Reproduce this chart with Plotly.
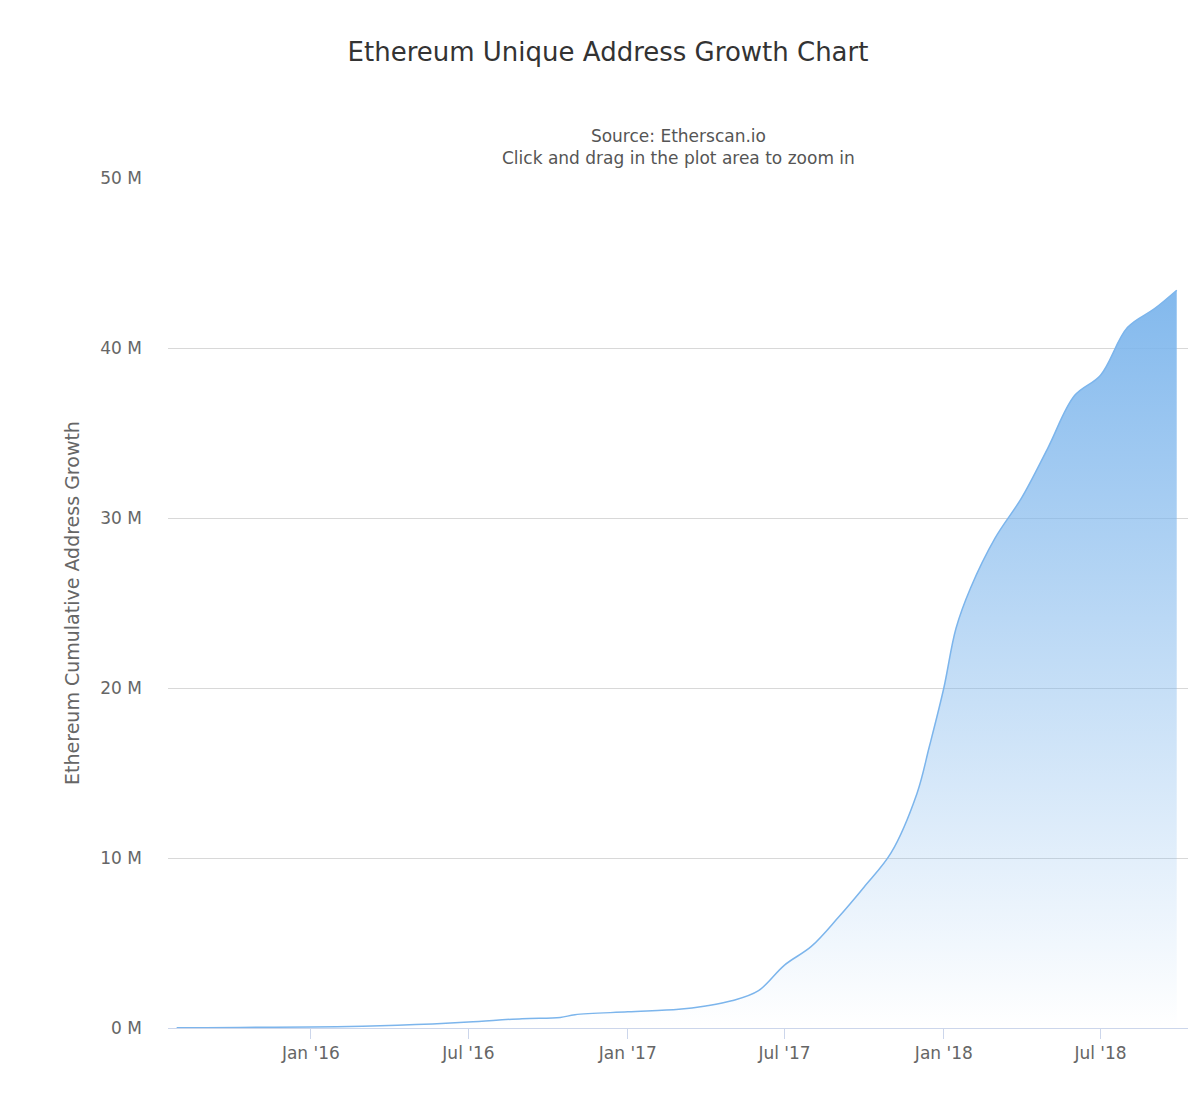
import plotly.graph_objects as go

dates = ["2015-07-30", "2015-09-01", "2015-11-01", "2016-01-01", "2016-03-01", "2016-05-01",
         "2016-07-01", "2016-09-01", "2016-10-15", "2016-11-01", "2017-01-01", "2017-03-01",
         "2017-04-01", "2017-05-01", "2017-06-01", "2017-07-01", "2017-08-01", "2017-09-01",
         "2017-10-01", "2017-11-01", "2017-12-01", "2017-12-15", "2018-01-01", "2018-01-15",
         "2018-02-01", "2018-03-01", "2018-04-01", "2018-05-01", "2018-06-01", "2018-07-01",
         "2018-08-01", "2018-09-01", "2018-09-27"]
addresses = [0.01, 0.02, 0.04, 0.06, 0.1, 0.2,
             0.35, 0.55, 0.62, 0.78, 0.95, 1.1,
             1.3, 1.6, 2.2, 3.7, 4.8, 6.5,
             8.3, 10.3, 13.8, 16.5, 20.0, 23.5,
             25.9, 28.8, 31.2, 34.1, 37.2, 38.4,
             41.2, 42.3, 43.4]
y_ticks = [0, 10, 20, 30, 40, 50]

fig = go.Figure(go.Scatter(
    x=dates, y=[v * 1e6 for v in addresses], mode="lines",
    line=dict(color="#7cb5ec", width=1.5, shape="spline"),
    fill="tozeroy",
    fillgradient=dict(type="vertical", colorscale=[[0, "rgba(124,181,236,0)"], [1, "rgba(124,181,236,0.95)"]]),
    name="Addresses"))

fig.update_layout(
    width=1200, height=1100, plot_bgcolor="white", paper_bgcolor="white",
    font=dict(family="DejaVu Sans", color="#666666"),
    title=dict(text="Ethereum Unique Address Growth Chart", x=0.5, y=0.968,
               font=dict(size=26, color="#333333")),
    annotations=[dict(text="Source: Etherscan.io<br>Click and drag in the plot area to zoom in",
                      x=0.5, y=1.063, xref="paper", yref="paper", showarrow=False,
                      font=dict(size=17, color="#555555"))],
    margin=dict(l=160, r=20, t=170, b=80),
    showlegend=False,
)
fig.update_yaxes(range=[0, 50e6], tickvals=[t * 1e6 for t in y_ticks],
                 ticktext=[f"{t} M" for t in y_ticks], gridcolor="#d8d8d8",
                 tickfont=dict(size=17), zeroline=False, ticklabelstandoff=25,
                 title=dict(text="Ethereum Cumulative Address Growth", font=dict(size=19)))
fig.update_xaxes(range=["2015-07-20", "2018-10-10"], dtick="M6", tick0="2016-01-01",
                 tickformat="%b '%y", showgrid=False, showline=True, linecolor="#ccd6eb",
                 ticks="outside", tickcolor="#ccd6eb", ticklen=10, tickfont=dict(size=17))

fig.write_html("out.html")
